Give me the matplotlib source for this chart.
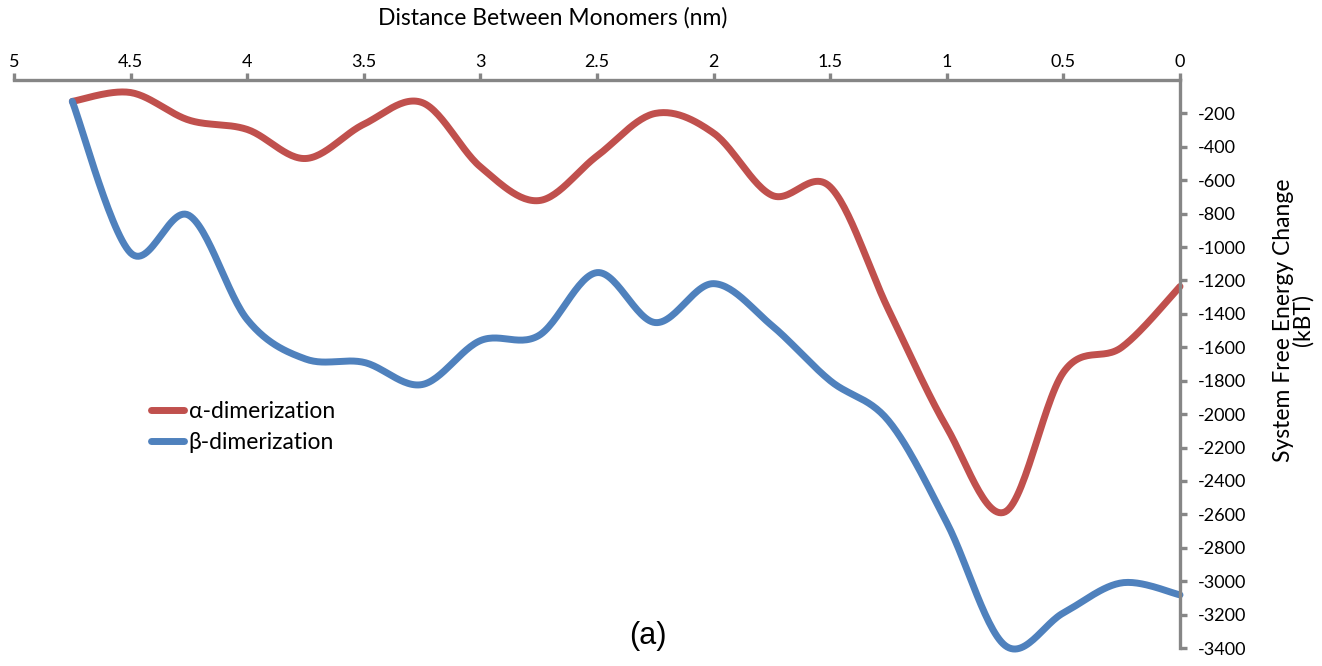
import numpy as np
import matplotlib
matplotlib.use("Agg")
import matplotlib.pyplot as plt
from matplotlib.lines import Line2D

# ---- data ----
distance = [4.75, 4.5, 4.25, 4.0, 3.75, 3.5, 3.25, 3.0, 2.75, 2.5, 2.25,
            2.0, 1.75, 1.5, 1.25, 1.0, 0.75, 0.5, 0.25, 0.0]
alpha_energy = [-128, -75, -240, -296, -470, -265, -135, -520, -722, -455, -200,
                -318, -690, -640, -1375, -2080, -2585, -1750, -1600, -1236]
beta_energy = [-128, -1035, -810, -1434, -1670, -1690, -1823, -1560, -1530, -1153, -1452,
               -1219, -1470, -1800, -2040, -2650, -3385, -3190, -3010, -3082]
x_ticks = [5, 4.5, 4, 3.5, 3, 2.5, 2, 1.5, 1, 0.5, 0]
x_tick_labels = ["5", "4.5", "4", "3.5", "3", "2.5", "2", "1.5", "1", "0.5", "0"]
y_ticks = list(range(-200, -3401, -200))
y_tick_labels = [str(v) for v in y_ticks]
series_names = ["\u03b1-dimerization", "\u03b2-dimerization"]
colors = ["#C0504D", "#4F81BD"]


def smooth(xs, ys, n=30):
    """Excel-like Catmull-Rom Bezier smoothing through the points."""
    p = np.column_stack([xs, ys]).astype(float)
    pts = np.vstack([p[0], p, p[-1]])
    out = []
    t = np.linspace(0, 1, n)[:, None]
    for i in range(1, len(pts) - 2):
        p0, p1, p2, p3 = pts[i - 1], pts[i], pts[i + 1], pts[i + 2]
        c1 = p1 + (p2 - p0) / 6.0
        c2 = p2 - (p3 - p1) / 6.0
        seg = ((1 - t) ** 3) * p1 + 3 * ((1 - t) ** 2) * t * c1 + 3 * (1 - t) * t ** 2 * c2 + t ** 3 * p2
        out.append(seg if i == 1 else seg[1:])
    s = np.vstack(out)
    return s[:, 0], s[:, 1]


plt.rcParams['font.family'] = ['Lato', 'DejaVu Sans']
fig = plt.figure(figsize=(13.22, 6.66), dpi=100)
ax = fig.add_axes([14 / 1322, 18 / 666, (1180 - 14) / 1322, (648 - 80) / 666])

for ys, c in zip([alpha_energy, beta_energy], colors):
    sx, sy = smooth(distance, ys)
    ax.plot(sx, sy, color=c, lw=5, solid_capstyle='round', solid_joinstyle='round', clip_on=False)

ax.set_xlim(5, 0)
ax.set_ylim(-3400, 0)

gray = "#868686"
for s in ["left", "bottom"]:
    ax.spines[s].set_visible(False)
for s in ["top", "right"]:
    ax.spines[s].set_color(gray)
    ax.spines[s].set_linewidth(2.4)

ax.xaxis.tick_top()
ax.yaxis.tick_right()
ax.set_xticks(x_ticks)
ax.set_xticklabels(x_tick_labels)
ax.set_yticks(y_ticks)
ax.set_yticklabels(y_tick_labels)
ax.tick_params(axis='x', direction='out', length=5, width=2.4, color=gray, labelsize=13, pad=2)
ax.tick_params(axis='y', direction='out', length=5, width=2.4, color=gray, labelsize=13, pad=8)

fig.text(553 / 1322, 1 - 18 / 666, "Distance Between Monomers (nm)", ha='center', va='center', fontsize=16.5)
fig.text(1293 / 1322, 1 - 320 / 666, "System Free Energy Change\n(kBT)", ha='center', va='center',
         rotation=90, fontsize=16.5, multialignment='center', linespacing=0.9)
fig.text(648 / 1322, 1 - 636 / 666, "(a)", ha='center', va='center', fontsize=22,
         family=['Liberation Sans', 'DejaVu Sans'])

handles = [Line2D([0], [0], color=c, lw=5, solid_capstyle='round') for c in colors]
fig.legend(handles, series_names, loc='upper left', bbox_to_anchor=(151 / 1322, 1 - 401 / 666),
           frameon=False, fontsize=16.5, handlelength=1.45, handletextpad=0.2, labelspacing=0.45,
           borderaxespad=0, borderpad=0)

fig.savefig("out.png", dpi=100)
